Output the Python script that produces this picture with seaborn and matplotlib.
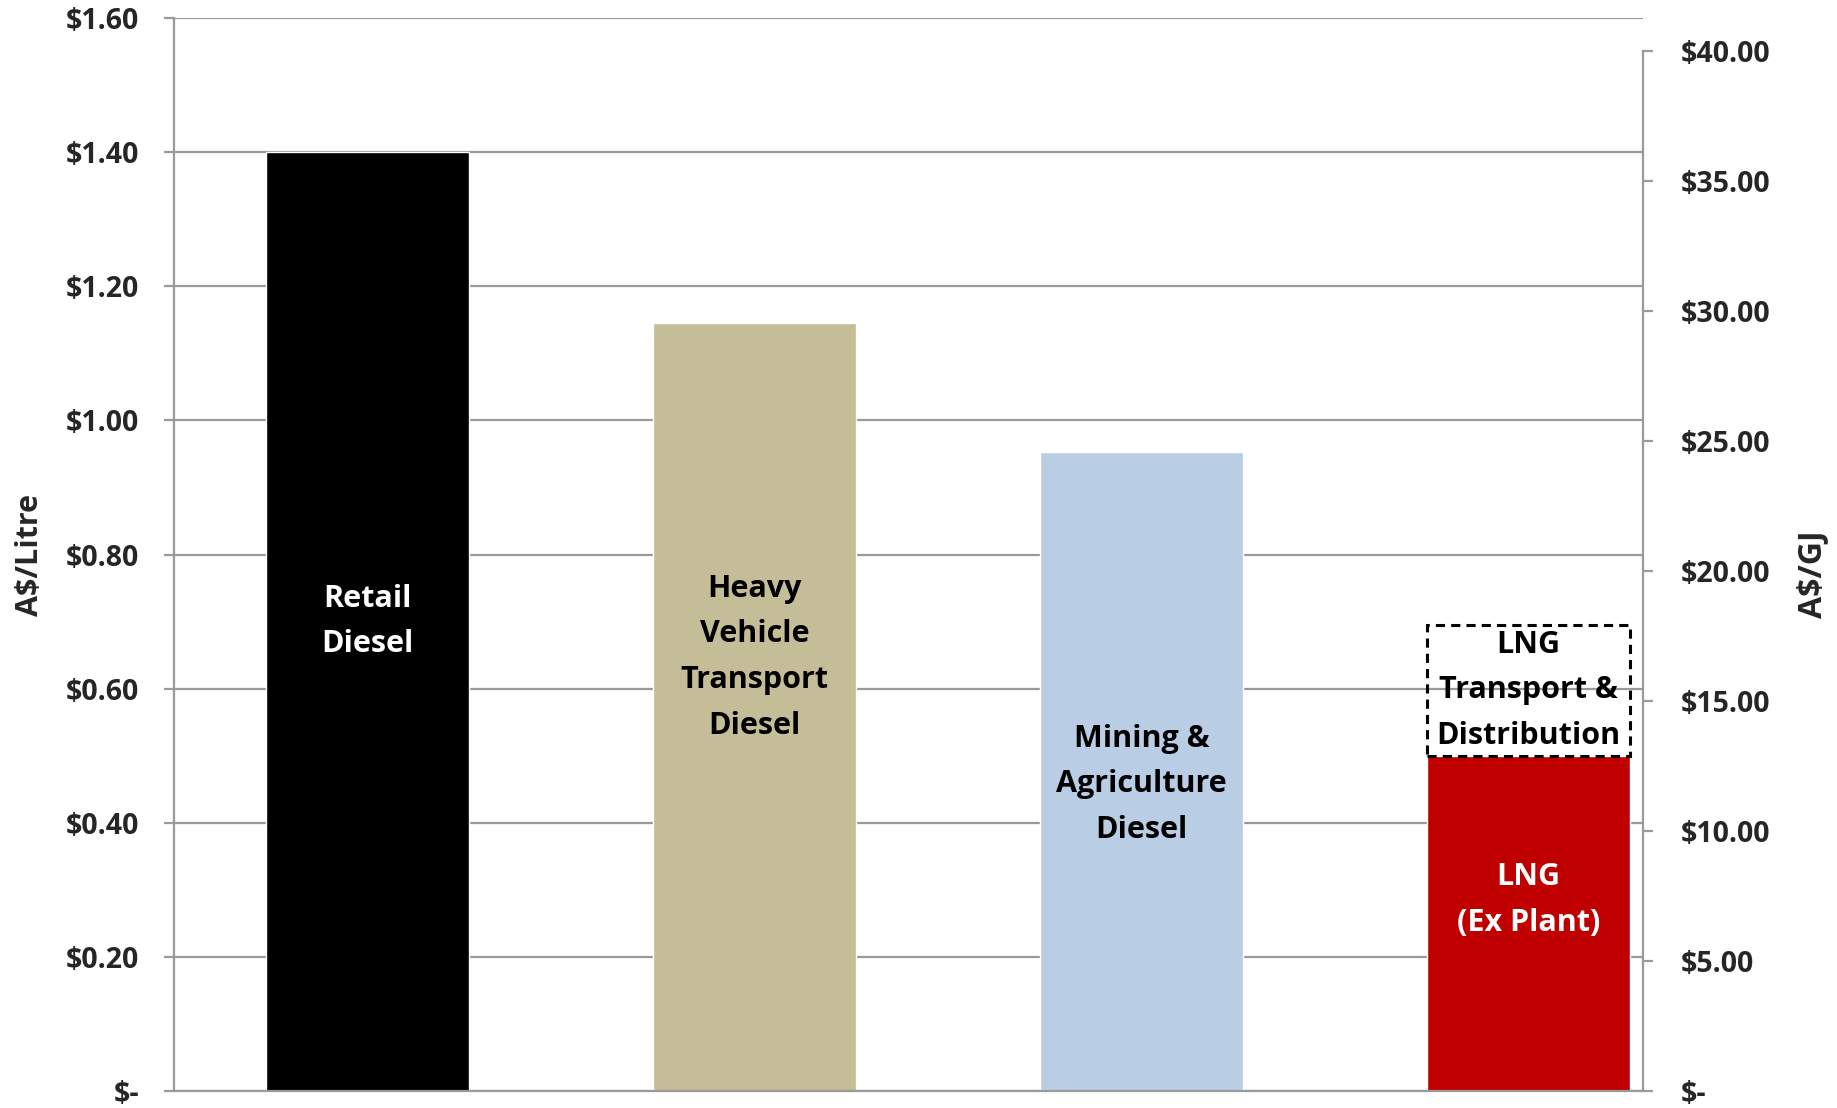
import matplotlib
matplotlib.use("Agg")
import matplotlib.pyplot as plt
import seaborn as sns
import pandas as pd

categories = ["Retail Diesel", "Heavy Vehicle Transport Diesel",
              "Mining & Agriculture Diesel", "LNG (Ex Plant)"]
bar_labels = ["Retail\nDiesel", "Heavy\nVehicle\nTransport\nDiesel",
              "Mining &\nAgriculture\nDiesel", "LNG\n(Ex Plant)"]
values = [1.40, 1.145, 0.953, 0.50]
lng_transport_value = 0.195
lng_transport_label = "LNG\nTransport &\nDistribution"
left_ticks = [0.0, 0.2, 0.4, 0.6, 0.8, 1.0, 1.2, 1.4, 1.6]
right_ticks = [0, 5, 10, 15, 20, 25, 30, 35, 40]
left_label = "A$/Litre"
right_label = "A$/GJ"

colors = ["#000000", "#C4BD97", "#B9CDE5", "#C00000"]
text_colors = ["white", "black", "black", "white"]

sns.set_theme(style="white")
plt.rcParams['font.family'] = ['Open Sans', 'DejaVu Sans']

fig = plt.figure(figsize=(18.37, 11.08), dpi=100)
ax = fig.add_axes([174/1837, 1 - 1091/1108, (1643-174)/1837, (1091-18)/1108])

df = pd.DataFrame({"cat": categories, "val": values})
sns.barplot(data=df, x="cat", y="val", hue="cat", palette=colors, width=0.525,
            legend=False, ax=ax, saturation=1)

# LNG transport dashed stacked segment
ax.bar(3, lng_transport_value, bottom=values[3], width=0.525, facecolor="none",
       edgecolor="black", linestyle=(0, (3, 2)), linewidth=2.2, zorder=4)

ax.set_xlim(-0.5, (1643-174)/387 - 0.5)
ax.set_ylim(0, 1.6)
ax.set_yticks(left_ticks)
ax.set_yticklabels(["$-" if t == 0 else f"${t:.2f}" for t in left_ticks],
                   fontsize=20.5, fontweight="bold")
ax.set_xticks([])
ax.set_xlabel("")
ax.set_ylabel(left_label, fontsize=22, fontweight="bold")
ax.yaxis.set_label_coords(-0.088, 0.5)
ax.grid(axis="y", color="#9a9a9a", linewidth=1.6)
ax.set_axisbelow(True)
for s in ["top", "right"]:
    ax.spines[s].set_visible(False)
for s in ["left", "bottom"]:
    ax.spines[s].set_color("#9a9a9a")
    ax.spines[s].set_linewidth(1.6)
ax.tick_params(axis="y", which="major", length=7, width=1.6, color="#9a9a9a",
               pad=18, left=True)

# bar labels
label_y = [values[0]/2, values[1]*0.565, values[2]*0.48, values[3]*0.57]
for i, (lab, yv) in enumerate(zip(bar_labels, label_y)):
    ax.text(i, yv, lab, ha="center", va="center", color=text_colors[i],
            fontsize=22, fontweight="bold", linespacing=1.68, zorder=5)
ax.text(3, values[3] + lng_transport_value/2, lng_transport_label,
        ha="center", va="center", color="black", fontsize=22,
        fontweight="bold", linespacing=1.68, zorder=5)

# secondary axis
ax2 = ax.twinx()
ax2.set_ylim(0, 40*1073/1040)
ax2.set_yticks(right_ticks)
ax2.set_yticklabels(["$-" if t == 0 else f"${t:.2f}" for t in right_ticks],
                    fontsize=20.5, fontweight="bold")
ax2.grid(False)
for s in ["top", "left", "bottom"]:
    ax2.spines[s].set_visible(False)
ax2.spines["right"].set_color("#9a9a9a")
ax2.spines["right"].set_linewidth(1.6)
ax2.spines["right"].set_bounds(0, 40)
ax2.tick_params(axis="y", length=7, width=1.6, color="#9a9a9a", pad=20, right=True)
ax2.set_ylabel(right_label, fontsize=23, fontweight="bold", rotation=90)
ax2.yaxis.set_label_coords(1.1045, 0.482)

fig.savefig("out.png", dpi=100)
